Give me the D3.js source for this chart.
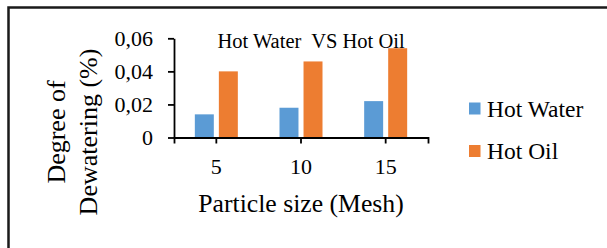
<!DOCTYPE html>
<html>
<head>
<meta charset="utf-8">
<script src="https://cdn.jsdelivr.net/npm/d3@7"></script>
<style>
    body { margin: 0; background: #fff; overflow: hidden; }
    svg { display: block; }
    svg text { font-family: "Liberation Serif", "Times New Roman", serif; fill: #000; }
</style>
</head>
<body>
<svg width="607" height="248"></svg>
<script>
const categories = ["5", "10", "15"];
const seriesNames = ["Hot Water", "Hot Oil"];
const hotWater = [0.014, 0.018, 0.022];
const hotOil = [0.040, 0.046, 0.054];
const yTicks = [0, 0.02, 0.04, 0.06];
const yTickLabels = ["0", "0,02", "0,04", "0,06"];
const colors = ["#5b9bd5", "#ed7d31"];

const svg = d3.select("svg");

// chart frame (only top and left edges fall inside the picture)
svg.append("rect")
    .attr("x", 8.5).attr("y", 7.5)
    .attr("width", 640).attr("height", 300)
    .attr("fill", "none")
    .attr("stroke", "#1a1a1a")
    .attr("stroke-width", 2.5);

const plot = { left: 174, right: 428, top: 38.3, bottom: 137.5 };

const x0 = d3.scaleBand()
    .domain(categories)
    .range([plot.left, plot.right]);

const groupW = 43;
const x1 = d3.scaleBand()
    .domain(seriesNames)
    .range([x0.bandwidth() / 2 - groupW / 2, x0.bandwidth() / 2 + groupW / 2])
    .paddingInner(0.21);

const y = d3.scaleLinear()
    .domain([0, 0.06])
    .range([plot.bottom, plot.top]);

const data = categories.map((c, i) => ({
    cat: c,
    values: [
        { name: seriesNames[0], value: hotWater[i] },
        { name: seriesNames[1], value: hotOil[i] }
    ]
}));

// bars
const groups = svg.append("g")
    .selectAll("g")
    .data(data)
    .enter().append("g")
    .attr("transform", d => `translate(${x0(d.cat)},0)`);

groups.selectAll("rect")
    .data(d => d.values)
    .enter().append("rect")
    .attr("x", d => x1(d.name))
    .attr("width", x1.bandwidth())
    .attr("y", d => y(d.value))
    .attr("height", d => y(0) - y(d.value))
    .attr("fill", (d, i) => colors[i]);

// y axis
const yAxis = svg.append("g")
    .attr("transform", `translate(${plot.left},0)`)
    .call(d3.axisLeft(y)
        .tickValues(yTicks)
        .tickFormat((d, i) => yTickLabels[i])
        .tickSize(6)
        .tickSizeOuter(0)
        .tickPadding(15));

yAxis.attr("font-family", null).attr("font-size", null);
yAxis.selectAll("path, line").attr("stroke", "#000").attr("stroke-width", 1.8);
yAxis.selectAll("text")
    .style("font-size", "22px")
    .attr("dy", "0.32em");

// x axis, ticks at category centres and at both ends
const xAxis = svg.append("g")
    .attr("transform", `translate(0,${plot.bottom})`)
    .call(d3.axisBottom(x0)
        .tickSize(6)
        .tickSizeOuter(6)
        .tickPadding(15));

xAxis.attr("font-family", null).attr("font-size", null);
xAxis.selectAll("path, line").attr("stroke", "#000").attr("stroke-width", 1.8);
xAxis.selectAll("text")
    .style("font-size", "22px")
    .attr("dy", "0.71em");

// title
svg.append("text")
    .attr("x", 311)
    .attr("y", 48)
    .attr("text-anchor", "middle")
    .style("font-size", "20.5px")
    .style("white-space", "pre")
    .text("Hot Water  VS Hot Oil");

// axis titles
svg.append("text")
    .attr("x", 301)
    .attr("y", 212)
    .attr("text-anchor", "middle")
    .style("font-size", "25.7px")
    .text("Particle size (Mesh)");

const yTitle = svg.append("text")
    .attr("transform", "translate(0,132) rotate(-90)")
    .attr("text-anchor", "middle")
    .style("font-size", "26px");
yTitle.append("tspan").attr("x", 0).attr("y", 65).text("Degree of");
yTitle.append("tspan").attr("x", 0).attr("y", 96.5).text("Dewatering (%)");

// legend
const legend = svg.append("g")
    .selectAll("g")
    .data(seriesNames)
    .enter().append("g")
    .attr("transform", (d, i) => `translate(469,${102.5 + i * 42.5})`);

legend.append("rect")
    .attr("width", 11.5)
    .attr("height", 12)
    .attr("fill", (d, i) => colors[i]);

legend.append("text")
    .attr("x", 18)
    .attr("y", 14)
    .style("font-size", "23.5px")
    .text(d => d);
</script>
</body>
</html>
